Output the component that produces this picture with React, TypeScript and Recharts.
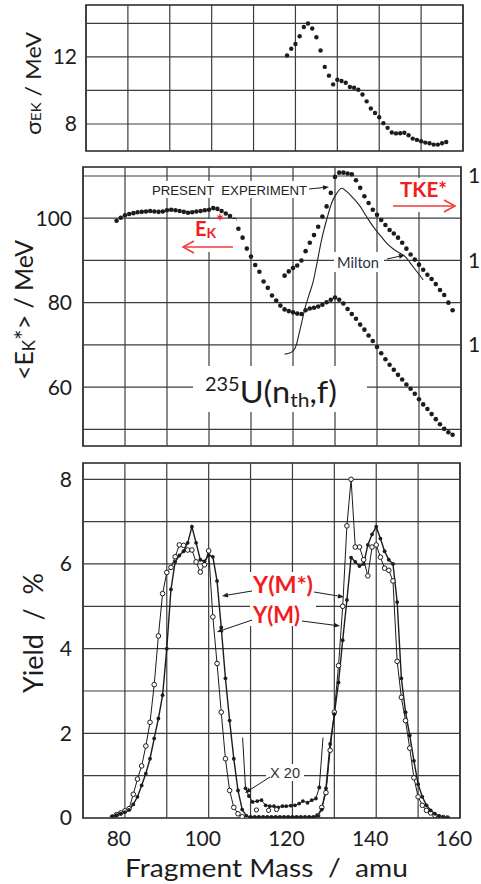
import { LineChart, Line, XAxis, YAxis, ReferenceLine, ReferenceArea } from 'recharts';

const range = (a: number, b: number) => Array.from({ length: b - a + 1 }, (_, i) => a + i);

// width of the kinetic energy distribution, sigma(E_K) in MeV
const sigmaMass = range(118, 156);
const sigmaEk = [
  12.08, 12.48, 12.77, 13.23, 13.78, 13.99, 13.69, 13.17, 12.38, 11.4,
  10.88, 10.36, 10.64, 10.56, 10.46, 10.2, 10.16, 10.04, 9.76, 9.35,
  8.92, 8.65, 8.4, 8.05, 7.77, 7.49, 7.44, 7.45, 7.48, 7.33,
  7.13, 7.05, 6.97, 6.89, 6.85, 6.77, 6.77, 6.85, 6.93,
];

// mean fragment kinetic energy <E_K*> (left axis, MeV)
const ekMass = range(78, 158);
const ekMean = [
  99.4, 100.1, 100.7, 101.0, 101.2, 101.4, 101.5, 101.6, 101.7, 101.6,
  101.5, 101.6, 101.9, 102.0, 101.9, 101.7, 101.5, 101.3, 101.4, 101.6,
  101.7, 101.9, 102.0, 102.4, 102.2, 101.7, 101.1, 100.5, 99.6, 97.5,
  95.4, 92.8, 90.9, 88.9, 87.3, 85.0, 83.5, 81.7, 80.5, 79.3,
  78.4, 78.0, 77.7, 77.4, 77.3, 78.2, 78.6, 78.8, 79.1, 79.5,
  80.1, 80.7, 81.2, 80.7, 79.8, 78.5, 77.3, 76.2, 74.8, 73.6,
  72.2, 70.9, 69.5, 68.0, 66.6, 65.3, 64.1, 62.9, 61.8, 60.6,
  59.6, 58.4, 57.1, 55.9, 54.8, 53.6, 52.4, 51.2, 50.1, 49.3,
  48.7,
];

// total kinetic energy TKE* (right axis, MeV)
const tkeMass = range(118, 158);
const tke = [
  158.2, 158.7, 159.1, 159.4, 160.0, 161.1, 162.1, 163.0, 164.0, 165.2,
  166.4, 168.0, 169.9, 170.4, 170.4, 170.3, 170.2, 169.5, 168.6, 167.6,
  166.8, 166.0, 165.4, 164.8, 164.2, 163.6, 163.2, 162.7, 162.1, 161.4,
  160.7, 160.1, 159.5, 158.9, 158.3, 157.8, 157.2, 156.5, 155.9, 155.0,
  154.1,
];

// Milton's TKE curve
const miltonMass = [
  118.0, 119.0, 120.0, 120.8, 121.4, 122.0, 122.8, 123.8, 124.8, 125.8,
  126.8, 128.0, 129.2, 130.4, 131.6, 132.8, 134.4, 136.0, 137.5, 139.1,
  140.7, 142.3, 143.9, 145.5, 146.7, 148.6, 151.0,
];
const miltonTke = [
  148.9, 149.0, 149.25, 150.0, 151.25, 152.5, 154.25, 155.9, 157.5, 159.9,
  162.45, 164.8, 166.8, 167.95, 168.55, 168.15, 167.35, 166.4, 165.2, 164.0,
  163.0, 162.05, 161.35, 160.85, 160.45, 159.25, 157.7,
];

// mass yields in %
const yieldMass = range(77, 157);
const yieldPre = [
  0.04, 0.07, 0.1, 0.14, 0.19, 0.32, 0.5, 0.77, 1.05, 1.4,
  1.88, 2.35, 2.9, 4.0, 5.4, 6.05, 6.2, 6.3, 6.5, 6.88,
  6.5, 6.1, 6.06, 6.21, 6.17, 5.6, 4.5, 3.3, 2.3, 1.4,
  0.65, 0.2, 0.05, 0.02, 0.02, 0.02, 0.02, 0.02, 0.02, 0.02,
  0.02, 0.02, 0.02, 0.02, 0.02, 0.02, 0.02, 0.02, 0.02, 0.05,
  0.2, 0.7, 1.75, 2.45, 3.2, 4.2, 5.15, 6.15, 6.05, 5.95,
  6.0, 6.45, 6.7, 6.88, 6.6, 6.3, 6.1, 6.0, 5.1, 3.3,
  2.5, 1.95, 1.35, 0.8, 0.5, 0.3, 0.18, 0.1, 0.04, 0.01,
  0.0,
];
const yieldPost = [
  0.02, 0.08, 0.12, 0.17, 0.22, 0.56, 0.92, 1.23, 1.7, 2.26,
  3.15, 4.3, 5.3, 5.8, 5.92, 6.17, 6.45, 6.44, 6.33, 6.33,
  6.05, 5.81, 5.98, 6.31, 4.75, 3.65, 2.5, 1.4, 0.65, 0.25,
  0.1, 0.03, 0.0, 0.0, 0.0, 0.0, 0.0, 0.0, 0.0, 0.0,
  0.0, 0.0, 0.0, 0.0, 0.0, 0.0, 0.0, 0.0, 0.0, 0.05,
  0.25, 0.6, 1.6, 2.5, 3.6, 5.0, 6.9, 8.0, 6.4, 6.4,
  6.1, 5.72, 6.4, 6.45, 6.16, 5.9, 5.85, 5.6, 3.7, 2.85,
  2.3, 1.65, 0.95, 0.5, 0.3, 0.18, 0.12, 0.06, 0.03, 0.01,
  0.0,
];

// symmetric region magnified x20 (first and last entries are the off-scale continuations)
const x20Mass = [
  108.1, 108.8, 109.6, 110.5, 111.6, 112.6, 113.6, 114.6, 115.6, 116.6,
  117.6, 118.5, 119.6, 120.6, 121.6, 122.5, 123.6, 124.6, 125.6, 126.4, 127.3,
];
const x20Yield = [
  1.9, 0.7, 0.52, 0.38, 0.4, 0.42, 0.3, 0.28, 0.28, 0.25,
  0.28, 0.28, 0.29, 0.3, 0.34, 0.4, 0.36, 0.42, 0.46, 0.72, 1.9,
];
const x20OpenMass = [111.4, 114.3, 116.2];
const x20OpenYield = [0.19, 0.18, 0.2];

const gridX = [80, 90, 100, 110, 120, 130, 140, 150];
const sigmaGrid = [8, 10, 12, 14];
const ekGrid = [50, 60, 70, 80, 90, 100, 110];
const yieldGrid = [1, 2, 3, 4, 5, 6, 7, 8];

const pairs = (xs: number[], ys: number[]) => xs.map((m, i) => ({ m, v: ys[i] }));

const sigmaData = pairs(sigmaMass, sigmaEk);
const ekData = pairs(ekMass, ekMean);
const tkeData = pairs(tkeMass, tke);
const miltonData = pairs(miltonMass, miltonTke);
const preData = pairs(yieldMass, yieldPre);
const postData = pairs(yieldMass, yieldPost);
const x20Data = pairs(x20Mass, x20Yield);
const x20OpenData = pairs(x20OpenMass, x20OpenYield);

const ink = '#1c1c1c';
const gridInk = '#3c3c3c';
const red = '#f21c1c';
const font = 'Lato, "Open Sans", sans-serif';
const plain = '"Liberation Sans", Arial, sans-serif';
const tickStyle = { fill: ink, fontSize: 21, fontFamily: font };

const SIGMA_DOMAIN: [number, number] = [6.39, 15.09];
const EK_DOMAIN: [number, number] = [46.04, 112.13];
const TKE_DOMAIN: [number, number] = [138.02, 171.07];
const YIELD_DOMAIN: [number, number] = [0, 8.385];

const gridLines = (xs: number[], ys: number[], yAxisId: string) => [
  ...xs.map(x => <ReferenceLine key={`gx${x}`} x={x} yAxisId={yAxisId} stroke={gridInk} strokeWidth={1.2} />),
  ...ys.map(y => <ReferenceLine key={`gy${y}`} y={y} yAxisId={yAxisId} stroke={gridInk} strokeWidth={1.2} />),
];

const frame = (domain: [number, number], yAxisId: string) => (
  <ReferenceArea x1={70} x2={160} y1={domain[0]} y2={domain[1]} yAxisId={yAxisId}
    fill="none" fillOpacity={0} stroke="#222" strokeWidth={1.7} />
);

const MassTick = ({ x, y, payload }: any) => (
  <text x={x - 6} y={y + 11} textAnchor="middle" dominantBaseline="central"
    fill={ink} fontSize={21} fontFamily={font}>{payload.value}</text>
);

// the TKE scale sits at the panel's right edge, where only its leading digit fits
const leadingDigit = (v: number) => String(v).charAt(0);

// x20 curve: the two end entries are only line continuations, no dot
const x20Dot = (props: any) => {
  const { cx, cy, index } = props;
  if (index === 0 || index === x20Data.length - 1) return <g key={`x20-${index}`} />;
  return <circle key={`x20-${index}`} cx={cx} cy={cy} r={1.9} fill={ink} />;
};

const Arrow = ({ x1, y1, x2, y2, color = ink, w = 1 }: any) => {
  const a = Math.atan2(y2 - y1, x2 - x1);
  const L = 6, H = 2.4;
  const bx = x2 - L * Math.cos(a), by = y2 - L * Math.sin(a);
  const p1 = `${bx - H * Math.sin(a)},${by + H * Math.cos(a)}`;
  const p2 = `${bx + H * Math.sin(a)},${by - H * Math.cos(a)}`;
  return (
    <g>
      <line x1={x1} y1={y1} x2={bx} y2={by} stroke={color} strokeWidth={w} />
      <polygon points={`${x2},${y2} ${p1} ${p2}`} fill={color} />
    </g>
  );
};

const OpenArrow = ({ x1, x2, y }: any) => {
  const dir = Math.sign(x2 - x1);
  return (
    <g stroke="#f03a3a" strokeWidth={1.5} fill="none">
      <line x1={x1} y1={y} x2={x2} y2={y} />
      <polyline points={`${x2 - dir * 11},${y - 6} ${x2},${y} ${x2 - dir * 11},${y + 6}`} />
    </g>
  );
};

const Annotations = () => (
  <svg width={481} height={884} style={{ position: 'absolute', left: 0, top: 0, pointerEvents: 'none' }}>
    {/* label backgrounds */}
    <g fill="#fff">
      <rect x={149} y={181} width={160} height={17} />
      <rect x={182} y={219} width={54} height={33} />
      <rect x={390} y={178} width={68} height={34} />
      <rect x={334} y={252} width={50} height={20} />
      <rect x={193} y={366} width={174} height={46} />
      <rect x={250} y={572} width={66} height={54} />
      <rect x={266} y={764} width={38} height={17} />
    </g>

    {/* axis titles */}
    <text transform="translate(41,83.5) rotate(-90)" textAnchor="middle" fill={ink}
      fontFamily={font} fontSize={22} textLength={103} lengthAdjust="spacingAndGlyphs" style={{ whiteSpace: 'pre' }}>
      σ<tspan fontSize={14}>EK</tspan> / MeV
    </text>
    <text transform="translate(33,310) rotate(-90)" textAnchor="middle" fill={ink}
      fontFamily={font} fontSize={25} textLength={140} lengthAdjust="spacingAndGlyphs" style={{ whiteSpace: 'pre' }}>
      {'<E'}<tspan fontSize={17} dy={2}>K</tspan><tspan dy={-2}>{'*> / MeV'}</tspan>
    </text>
    <text transform="translate(43,633) rotate(-90)" textAnchor="middle" fill={ink}
      fontFamily={font} fontSize={27} textLength={120} lengthAdjust="spacingAndGlyphs" style={{ whiteSpace: 'pre' }}>
      {'Yield  /  %'}
    </text>
    <text x={266.5} y={877} textAnchor="middle" fill={ink} fontFamily={font} fontSize={25}
      textLength={283} lengthAdjust="spacingAndGlyphs" style={{ whiteSpace: 'pre' }}>
      {'Fragment Mass  /  amu'}
    </text>

    {/* middle panel */}
    <text x={152} y={195} fill="#222" fontFamily={plain} fontSize={12.5}
      textLength={155} lengthAdjust="spacingAndGlyphs" style={{ whiteSpace: 'pre' }}>
      {'PRESENT  EXPERIMENT'}
    </text>
    <Arrow x1={309} y1={189} x2={329} y2={187} />
    <text x={337} y={268} fill="#2b3140" fontFamily={font} fontSize={14.5} textLength={42} lengthAdjust="spacingAndGlyphs">Milton</text>
    <Arrow x1={387} y1={259} x2={405} y2={255} />
    <text x={400} y={197} fill={red} fontFamily={font} fontWeight={700} fontSize={20} textLength={47} lengthAdjust="spacingAndGlyphs">TKE*</text>
    <OpenArrow x1={393} x2={455} y={206} />
    <text x={195} y={236} fill={red} fontFamily={font} fontWeight={700} fontSize={20}>
      E<tspan fontSize={14} dy={2}>K</tspan><tspan fontSize={19} dy={-10}>*</tspan>
    </text>
    <OpenArrow x1={233} x2={183} y={247} />
    <text x={205} y={403} fill={ink} fontFamily={font} fontSize={31} textLength={132} lengthAdjust="spacingAndGlyphs">
      <tspan fontSize={19} dy={-12}>235</tspan><tspan dy={12}>U(n</tspan><tspan fontSize={20} dy={4}>th</tspan><tspan dy={-4}>,f)</tspan>
    </text>

    {/* bottom panel */}
    <text x={253} y={593} fill={red} fontFamily={font} fontWeight={700} fontSize={22} textLength={60} lengthAdjust="spacingAndGlyphs">Y(M*)</text>
    <text x={253} y={623} fill={red} fontFamily={font} fontWeight={700} fontSize={22} textLength={47} lengthAdjust="spacingAndGlyphs">Y(M)</text>
    <Arrow x1={252} y1={591} x2={222} y2={596} />
    <Arrow x1={314} y1={592} x2={344} y2={597} />
    <Arrow x1={252} y1={620} x2={217} y2={632} />
    <Arrow x1={302} y1={621} x2={340} y2={626} />
    <text x={270} y={778} fill="#333" fontFamily={plain} fontSize={14} textLength={30} lengthAdjust="spacingAndGlyphs">X 20</text>
    <Arrow x1={270} y1={777} x2={245} y2={793} />
  </svg>
);

export default function App() {
  return (
    <div style={{ position: 'absolute', left: 0, top: 0, width: 481, height: 884, background: '#fff', overflow: 'hidden' }}>
      {/* sigma(E_K) panel */}
      <div style={{ position: 'absolute', left: 0, top: 0 }}>
        <LineChart width={481} height={160} margin={{ top: 5, right: 18, bottom: 9, left: 0 }}>
          <XAxis type="number" dataKey="m" domain={[70, 160]} hide allowDataOverflow />
          <YAxis yAxisId="s" type="number" domain={SIGMA_DOMAIN} ticks={[8, 12]} width={86}
            axisLine={false} tickLine={false} tickMargin={3} tick={tickStyle} allowDataOverflow />
          {gridLines(gridX, sigmaGrid, 's')}
          {frame(SIGMA_DOMAIN, 's')}
          <Line yAxisId="s" data={sigmaData} dataKey="v" stroke="none"
            dot={{ r: 2.2, fill: ink, stroke: 'none' }} isAnimationActive={false} />
        </LineChart>
      </div>

      {/* kinetic energy panel */}
      <div style={{ position: 'absolute', left: 0, top: 160 }}>
        <LineChart width={481} height={290} margin={{ top: 7, right: 0, bottom: 4, left: 0 }}>
          <XAxis type="number" dataKey="m" domain={[70, 160]} hide allowDataOverflow />
          <YAxis yAxisId="ek" type="number" domain={EK_DOMAIN} ticks={[60, 80, 100]} width={83}
            axisLine={false} tickLine={false} tickMargin={5} tick={tickStyle} allowDataOverflow />
          <YAxis yAxisId="tke" orientation="right" type="number" domain={TKE_DOMAIN} ticks={[150, 160, 170]} width={20}
            axisLine={false} tickLine={false} tickMargin={1} tick={tickStyle} tickFormatter={leadingDigit} allowDataOverflow />
          {gridLines(gridX, ekGrid, 'ek')}
          {frame(EK_DOMAIN, 'ek')}
          <Line yAxisId="tke" data={miltonData} dataKey="v" type="monotone" stroke="#222" strokeWidth={1.1}
            dot={false} isAnimationActive={false} />
          <Line yAxisId="ek" data={ekData} dataKey="v" stroke="none"
            dot={{ r: 2.3, fill: ink, stroke: 'none' }} isAnimationActive={false} />
          <Line yAxisId="tke" data={tkeData} dataKey="v" stroke="none"
            dot={{ r: 2.3, fill: ink, stroke: 'none' }} isAnimationActive={false} />
        </LineChart>
      </div>

      {/* mass yield panel */}
      <div style={{ position: 'absolute', left: 0, top: 450 }}>
        <LineChart width={481} height={434} margin={{ top: 13, right: 21, bottom: 36, left: 0 }}>
          <XAxis type="number" dataKey="m" domain={[70, 160]} ticks={[80, 100, 120, 140, 160]} height={30}
            axisLine={false} tickLine={false} tick={<MassTick />} allowDataOverflow />
          <YAxis yAxisId="y" type="number" domain={YIELD_DOMAIN} ticks={[0, 2, 4, 6, 8]} width={83}
            axisLine={false} tickLine={false} tickMargin={5} tick={tickStyle} allowDataOverflow />
          {gridLines(gridX, yieldGrid, 'y')}
          {frame(YIELD_DOMAIN, 'y')}
          <Line yAxisId="y" data={x20Data} dataKey="v" stroke={ink} strokeWidth={1}
            dot={x20Dot} isAnimationActive={false} />
          <Line yAxisId="y" data={x20OpenData} dataKey="v" stroke="none"
            dot={{ r: 2.1, fill: '#fff', stroke: ink, strokeWidth: 1 }} isAnimationActive={false} />
          <Line yAxisId="y" data={postData} dataKey="v" stroke={ink} strokeWidth={1}
            dot={{ r: 2.3, fill: '#fff', stroke: ink, strokeWidth: 1 }} isAnimationActive={false} />
          <Line yAxisId="y" data={preData} dataKey="v" stroke={ink} strokeWidth={1.4}
            dot={{ r: 1.9, fill: ink, stroke: 'none' }} isAnimationActive={false} />
        </LineChart>
      </div>

      <Annotations />
    </div>
  );
}
